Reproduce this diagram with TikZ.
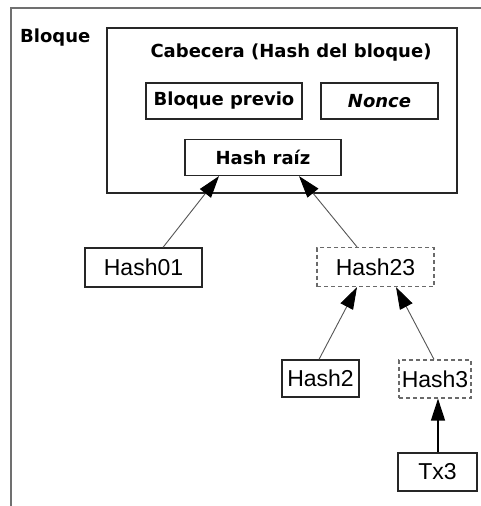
\documentclass[tikz,border=0pt]{standalone}
\usepackage{fontspec}
\setmainfont{Liberation Sans}
\newfontfamily\headfont{DejaVu Sans}
\usetikzlibrary{arrows.meta}
\definecolor{framegray}{HTML}{707070}
\definecolor{boxline}{HTML}{262626}
\definecolor{dashgray}{HTML}{6A6A6A}
\definecolor{linkgray}{HTML}{555555}
\tikzset{
  headtext/.style={font=\headfont\bfseries\fontsize{18}{20}\selectfont, inner sep=0},
  hbox/.style={draw=boxline, line width=1.2pt, inner sep=0, fill=white,
    font=\headfont\bfseries\fontsize{18}{20}\selectfont},
  leaf/.style={draw=boxline, line width=1.2pt, inner sep=0, fill=white,
    font=\fontsize{23}{26}\selectfont},
  dleaf/.style={leaf, draw=dashgray, dash pattern=on 4pt off 3pt},
  link/.style={draw=linkgray, line width=0.9pt,
    -{Triangle[length=22pt,width=14pt,color=black]}},
}
\begin{document}
\begin{tikzpicture}[x=1pt,y=-1pt]
\useasboundingbox (0,0) rectangle (481,506);
\fill[white] (0,0) rectangle (481,506);

% block frame (only left and top edges visible)
\draw[framegray, line width=1.8pt] (11,506) -- (11,8) -- (481,8);
\node[headtext, anchor=west] (bloque) at (20,38) {Bloque};

% header box and its fields
\node[draw=boxline, line width=1.2pt, minimum width=350pt, minimum height=165pt, inner sep=0] (header) at (282,110.5) {};
\node[headtext] (cabecera) at (291,53) {Cabecera (Hash del bloque)};
\node[hbox, minimum width=156pt, minimum height=36pt] (previo) at (224,101) {Bloque previo};
\node[hbox, minimum width=117pt, minimum height=36pt] (nonce) at (379.5,101) {\itshape Nonce};
\node[hbox, minimum width=156pt, minimum height=36pt] (raiz) at (263,157.5) {Hash raíz};

% Merkle tree nodes
\node[leaf, minimum width=117pt, minimum height=39pt] (h01) at (143.5,267.5) {Hash01};
\node[dleaf, minimum width=117pt, minimum height=39pt] (h23) at (375.5,267) {Hash23};
\node[leaf, minimum width=77pt, minimum height=37pt] (h2) at (320.5,378.5) {Hash2};
\node[dleaf, minimum width=72pt, minimum height=38pt] (h3) at (435,379) {Hash3};
\node[leaf, minimum width=79pt, minimum height=38pt] (tx3) at (437.5,472) {Tx3};

% links towards the root
\draw[link] ([xshift=19.5pt]h01.north) -- ([xshift=-44pt]raiz.south);
\draw[link] ([xshift=-18.5pt]h23.north) -- ([xshift=36pt]raiz.south);
\draw[link] ([xshift=-1.5pt]h2.north) -- ([xshift=-18.5pt]h23.south);
\draw[link] ([xshift=-1pt]h3.north) -- ([xshift=20.5pt]h23.south);
\draw[link, draw=black, line width=1.3pt] ([xshift=0.5pt]tx3.north) -- ([xshift=3pt]h3.south);
\end{tikzpicture}
\end{document}
